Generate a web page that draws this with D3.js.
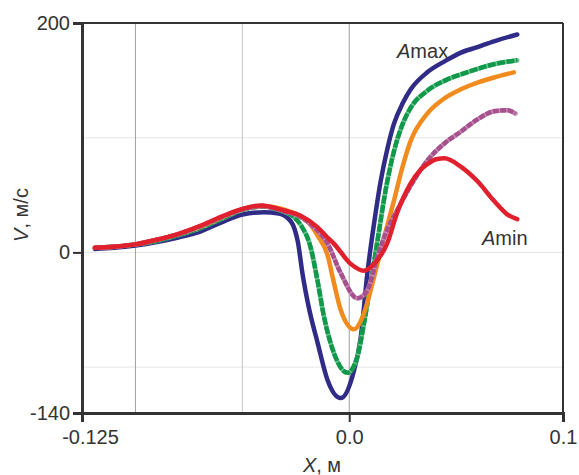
<!DOCTYPE html>
<html>
<head>
<meta charset="UTF-8">
<script src="https://d3js.org/d3.v7.min.js"></script>
<style>
  body { margin: 0; background: #fff; }
  svg { font-family: "Liberation Sans", Arial, sans-serif; display: block; }
</style>
</head>
<body>
<div id="chart"></div>
<script>
// values: [X, V]
const amax = [[-0.119,3],[-0.11,4],[-0.1,6],[-0.09,9],[-0.08,13],[-0.07,18],[-0.06,26],[-0.05,33],[-0.04,35],[-0.033,34],[-0.0273,27],[-0.0255,20],[-0.024,9],[-0.0219,-18],[-0.0189,-48],[-0.0149,-78],[-0.0102,-111],[-0.004,-127],[0.0015,-108],[0.0054,-74],[0.0085,-18],[0.0116,25],[0.0147,62],[0.0178,90],[0.0209,112],[0.025,130],[0.0287,142],[0.0365,157],[0.045,167],[0.052,174],[0.06,179],[0.0677,184],[0.0786,190]];
const a2 = [[-0.119,4],[-0.11,5],[-0.1,7],[-0.09,10],[-0.08,15],[-0.07,21],[-0.06,29],[-0.05,37],[-0.04,40],[-0.033,37],[-0.026,31],[-0.0227,24],[-0.018,4],[-0.0149,-24],[-0.0118,-56],[-0.0071,-88],[-0.0008,-105],[0.0038,-91],[0.0069,-62],[0.01,-27],[0.0132,10],[0.017,54],[0.0209,88],[0.025,112],[0.0287,126],[0.0365,141],[0.045,150],[0.052,155],[0.06,160],[0.0676,164],[0.0786,167.5]];
const a3 = [[-0.119,4],[-0.11,5],[-0.1,7],[-0.09,11],[-0.08,16],[-0.07,22],[-0.06,30],[-0.05,37.5],[-0.041,40.5],[-0.03,37],[-0.0227,31],[-0.018,24],[-0.0149,15],[-0.0102,-2],[-0.0071,-27],[-0.004,-50],[0.0022,-67],[0.0069,-53],[0.0116,-21.5],[0.0163,13],[0.0209,45],[0.025,75],[0.0287,97],[0.0365,121],[0.0443,134],[0.052,142],[0.06,148],[0.0677,152.5],[0.077,157]];
const a4 = [[-0.119,4],[-0.11,5],[-0.1,7],[-0.09,11],[-0.08,16],[-0.07,22.5],[-0.06,30.5],[-0.05,37.5],[-0.041,40.5],[-0.0305,36],[-0.0227,31],[-0.0165,22],[-0.0102,8],[-0.004,-18],[0.0038,-40],[0.0085,-33],[0.0132,-4],[0.0178,20],[0.0225,37],[0.0287,58],[0.0365,80],[0.0445,95],[0.052,105],[0.06,116],[0.0677,123],[0.074,124],[0.0778,121]];
const amin = [[-0.119,4],[-0.11,5],[-0.1,7],[-0.09,11],[-0.08,16],[-0.07,23],[-0.06,31],[-0.05,38],[-0.041,41],[-0.0305,36.5],[-0.0227,32],[-0.0149,22],[-0.0102,13],[-0.0071,7.5],[0.0007,-10],[0.0069,-16],[0.0116,-10],[0.0178,8],[0.0225,35],[0.0287,60],[0.0334,72],[0.0365,77],[0.0412,81.5],[0.0445,82],[0.052,75],[0.06,62],[0.0677,45],[0.074,33],[0.0786,29]];

const seriesList = [
  { data: amax, color: "#2f2b86" },
  { data: a2, color: "#12984a", under: "#6cc392", dash: "8,1.5" },
  { data: a3, color: "#f28b1e" },
  { data: a4, color: "#a6508e", under: "#c78ab5", dash: "6,1.5" },
  { data: amin, color: "#e0202c" }
];
const xTicks = [-0.125, 0.0, 0.1];
const xTickLabels = ["-0.125", "0.0", "0.1"];
const yTicks = [200, 0, -140];
const yTickLabels = ["200", "0", "-140"];
const xGrid = [-0.1, -0.05, 0];
const yGrid = [100, 0, -100];

const width = 579, height = 475;
const margin = { top: 23, right: 16, bottom: 62, left: 82 };

const svg = d3.select("#chart").append("svg")
  .attr("width", width).attr("height", height);

const x = d3.scaleLinear().domain([-0.125, 0.1]).range([margin.left, width - margin.right]);
const y = d3.scaleLinear().domain([-140, 200]).range([height - margin.bottom, margin.top]);

// grid
svg.selectAll(".hgrid").data(yGrid).enter().append("line")
  .attr("x1", x(-0.125)).attr("x2", x(0.1))
  .attr("y1", d => y(d)).attr("y2", d => y(d))
  .attr("stroke", "#e6e6e6").attr("stroke-width", 1);
svg.selectAll(".vgrid").data(xGrid).enter().append("line")
  .attr("x1", d => x(d)).attr("x2", d => x(d))
  .attr("y1", y(200)).attr("y2", y(-140))
  .attr("stroke", d => d === -0.05 ? "#c4c4c4" : "#a0a0a0").attr("stroke-width", 1);

// frame
svg.append("line").attr("x1", x(-0.125)).attr("x2", x(0.1)).attr("y1", y(200)).attr("y2", y(200))
  .attr("stroke", "#333").attr("stroke-width", 2);
svg.append("line").attr("x1", x(0.1)).attr("x2", x(0.1)).attr("y1", y(200)).attr("y2", y(-140))
  .attr("stroke", "#333").attr("stroke-width", 2);

// curves
const line = d3.line().x(d => x(d[0])).y(d => y(d[1])).curve(d3.curveMonotoneX);
seriesList.forEach(s => {
  if (s.under) {
    svg.append("path").datum(s.data)
      .attr("d", line).attr("fill", "none")
      .attr("stroke", s.under).attr("stroke-width", 4.5)
      .attr("stroke-linecap", "round").attr("stroke-linejoin", "round");
  }
  svg.append("path").datum(s.data)
    .attr("d", line)
    .attr("fill", "none")
    .attr("stroke", s.color)
    .attr("stroke-width", 4.5)
    .attr("stroke-linecap", s.dash ? "butt" : "round")
    .attr("stroke-linejoin", "round")
    .attr("stroke-dasharray", s.dash || null);
});

// axes
const xAxis = svg.append("g")
  .attr("transform", `translate(0,${y(-140)})`)
  .call(d3.axisBottom(x).tickValues(xTicks).tickSize(9).tickPadding(8)
    .tickFormat((d, i) => xTickLabels[i]));
const yAxis = svg.append("g")
  .attr("transform", `translate(${x(-0.125)},0)`)
  .call(d3.axisLeft(y).tickValues(yTicks).tickSize(9).tickPadding(3)
    .tickFormat((d, i) => yTickLabels[i]));

[xAxis, yAxis].forEach(a => {
  a.select(".domain").attr("stroke", "#333").attr("stroke-width", 3);
  a.selectAll(".tick line").attr("stroke", "#333").attr("stroke-width", 2);
  a.selectAll("text").attr("font-size", 20).attr("fill", "#333")
    .attr("font-family", "Liberation Sans, Arial, sans-serif");
});
xAxis.selectAll(".tick text").filter(d => d === -0.125).attr("dx", 8);

// axis titles
const xt = svg.append("text").attr("x", 322).attr("y", 472)
  .attr("text-anchor", "middle").attr("font-size", 20).attr("fill", "#333");
xt.append("tspan").attr("font-style", "italic").text("X");
xt.append("tspan").text(", м");

const yt = svg.append("text").attr("transform", "translate(28,215) rotate(-90)")
  .attr("text-anchor", "middle").attr("font-size", 20).attr("fill", "#333");
yt.append("tspan").attr("font-style", "italic").text("V");
yt.append("tspan").text(", м/с");

// series labels
const lmax = svg.append("text").attr("x", 397).attr("y", 58).attr("font-size", 20).attr("fill", "#333");
lmax.append("tspan").attr("font-style", "italic").text("A");
lmax.append("tspan").text("max");
const lmin = svg.append("text").attr("x", 482).attr("y", 245).attr("font-size", 20).attr("fill", "#333");
lmin.append("tspan").attr("font-style", "italic").text("A");
lmin.append("tspan").text("min");
</script>
</body>
</html>
